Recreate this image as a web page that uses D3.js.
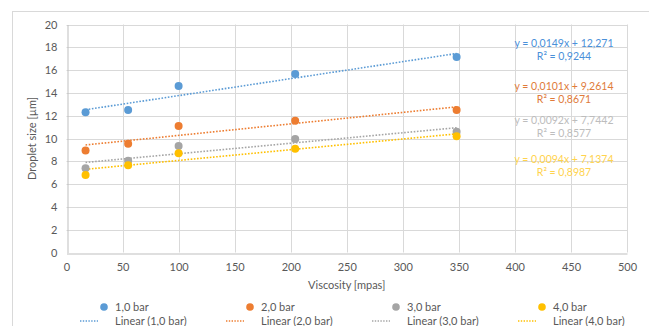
<!DOCTYPE html>
<html>
<head>
<meta charset="utf-8">
<script src="https://cdn.jsdelivr.net/npm/d3@7"></script>
<style>
  body { margin: 0; background: #fff; }
  text { font-family: Lato, "Open Sans", sans-serif; }
</style>
</head>
<body>
<div id="chart"></div>
<script>
// data
var viscosity = [17, 55, 100, 204, 348];
var seriesNames = ['1,0 bar', '2,0 bar', '3,0 bar', '4,0 bar'];
var bar1 = [12.3, 12.5, 14.6, 15.65, 17.15];
var bar2 = [8.95, 9.55, 11.1, 11.55, 12.5];
var bar3 = [7.4, 8.05, 9.35, 9.95, 10.6];
var bar4 = [6.8, 7.65, 8.7, 9.1, 10.2];
var slopes = [0.0149, 0.0101, 0.0092, 0.0094];
var intercepts = [12.271, 9.2614, 7.7442, 7.1374];
var eqLabels = ['y = 0,0149x + 12,271', 'y = 0,0101x + 9,2614', 'y = 0,0092x + 7,7442', 'y = 0,0094x + 7,1374'];
var r2Labels = ['R² = 0,9244', 'R² = 0,8671', 'R² = 0,8577', 'R² = 0,8987'];
var xTicks = [0, 50, 100, 150, 200, 250, 300, 350, 400, 450, 500];
var yTicks = [0, 2, 4, 6, 8, 10, 12, 14, 16, 18, 20];

var allSeries = [bar1, bar2, bar3, bar4];
var colours = ['#5B9BD5', '#ED7D31', '#A5A5A5', '#FFC000'];
var labelColours = ['#4A90D9', '#E07B3A', '#BDBDBD', '#FFD34D'];

var width = 649, height = 326;
var margin = {left: 66.5, right: 22, top: 24.5, bottom: 73.5};

var svg = d3.select('#chart').append('svg')
    .attr('width', width)
    .attr('height', height);

// chart border
svg.append('rect')
    .attr('x', 12.5).attr('y', 11.5)
    .attr('width', 660).attr('height', 330)
    .attr('fill', 'none')
    .attr('stroke', '#D9D9D9');

var x = d3.scaleLinear().domain([0, 500]).range([margin.left, width - margin.right]);
var y = d3.scaleLinear().domain([0, 20]).range([height - margin.bottom, margin.top]);

//gridlines
svg.append('g').selectAll('line').data(yTicks.slice(1)).join('line')
    .attr('x1', x(0)).attr('x2', x(500))
    .attr('y1', function(d) { return Math.round(y(d)) + 0.5; })
    .attr('y2', function(d) { return Math.round(y(d)) + 0.5; })
    .attr('stroke', '#D9D9D9');
svg.append('g').selectAll('line').data(xTicks.slice(1)).join('line')
    .attr('y1', y(0)).attr('y2', y(20))
    .attr('x1', function(d) { return Math.round(x(d)) + 0.5; })
    .attr('x2', function(d) { return Math.round(x(d)) + 0.5; })
    .attr('stroke', '#D9D9D9');

// axes
var xAxis = svg.append('g')
    .attr('transform', 'translate(0,' + (Math.round(y(0)) + 0.5) + ')')
    .call(d3.axisBottom(x).tickValues(xTicks).tickSize(0).tickPadding(10));
var yAxis = svg.append('g')
    .attr('transform', 'translate(' + (Math.round(x(0)) + 0.5) + ',0)')
    .call(d3.axisLeft(y).tickValues(yTicks).tickSize(0).tickPadding(10));
[xAxis, yAxis].forEach(function(a) {
    a.select('.domain').attr('stroke', '#BFBFBF');
    a.selectAll('text').attr('fill', '#595959').style('font-size', '11px');
});

// axis titles
svg.append('text')
    .attr('x', (x(0) + x(500)) / 2).attr('y', 289)
    .attr('text-anchor', 'middle')
    .attr('fill', '#595959').style('font-size', '11px')
    .text('Viscosity [mpas]');
svg.append('text')
    .attr('transform', 'translate(36,' + (y(10)) + ') rotate(-90)')
    .attr('text-anchor', 'middle')
    .attr('fill', '#595959').style('font-size', '11px')
    .text('Droplet size [µm]');

// trendlines
var xMin = d3.min(viscosity), xMax = d3.max(viscosity);
allSeries.forEach(function(s, i) {
    svg.append('line')
        .attr('x1', x(xMin)).attr('y1', y(slopes[i] * xMin + intercepts[i]))
        .attr('x2', x(xMax)).attr('y2', y(slopes[i] * xMax + intercepts[i]))
        .attr('stroke', colours[i])
        .attr('stroke-width', 1.6)
        .attr('stroke-dasharray', '1.6,1.6');
});

// points
allSeries.forEach(function(s, i) {
    svg.append('g').selectAll('circle').data(s).join('circle')
        .attr('cx', function(d, j) { return x(viscosity[j]); })
        .attr('cy', function(d) { return y(d); })
        .attr('r', 4)
        .attr('fill', colours[i]);
});

// equation labels
var eqY = [47, 90, 124, 163];
eqLabels.forEach(function(t, i) {
    svg.append('text')
        .attr('x', 564).attr('y', eqY[i])
        .attr('text-anchor', 'middle')
        .attr('fill', labelColours[i]).style('font-size', '10.5px')
        .text(t);
    svg.append('text')
        .attr('x', 564).attr('y', eqY[i] + 13)
        .attr('text-anchor', 'middle')
        .attr('fill', labelColours[i]).style('font-size', '10.5px')
        .text(r2Labels[i]);
});

// legend
var legendX = [80, 226, 372, 518];
seriesNames.forEach(function(n, i) {
    var lg = svg.append('g').attr('transform', 'translate(' + legendX[i] + ',0)');
    lg.append('circle').attr('cx', 24).attr('cy', 307).attr('r', 3.8).attr('fill', colours[i]);
    lg.append('text').attr('x', 35).attr('y', 311)
        .attr('fill', '#595959').style('font-size', '11px').text(n);
    lg.append('line').attr('x1', 0).attr('x2', 18).attr('y1', 321).attr('y2', 321)
        .attr('stroke', colours[i]).attr('stroke-width', 1.4).attr('stroke-dasharray', '1.4,1.4');
    lg.append('text').attr('x', 35).attr('y', 325)
        .attr('fill', '#595959').style('font-size', '11px').text('Linear (' + n + ')');
});
</script>
</body>
</html>
